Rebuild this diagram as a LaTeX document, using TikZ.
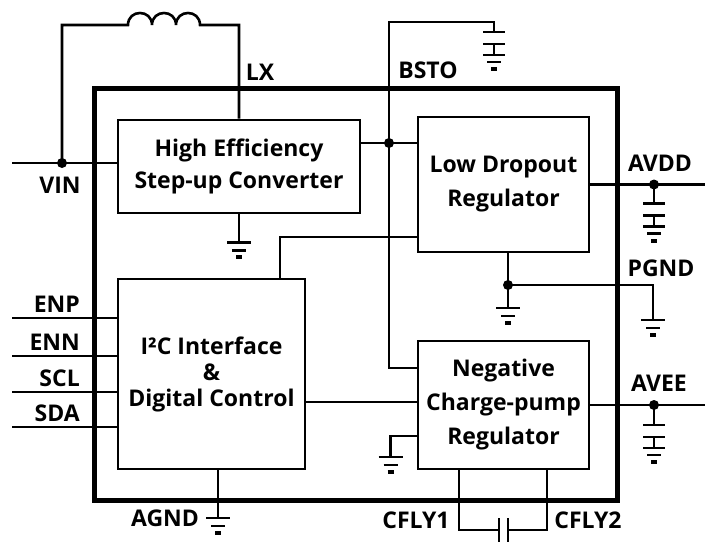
\documentclass[tikz,border=0pt]{standalone}
\usepackage{fontspec}
\setmainfont{Open Sans}
\tikzset{wire/.style={line width=2.6pt}}
\tikzset{blk/.style={draw, line width=2.8pt, align=center, font=\bfseries\fontsize{23}{34}\selectfont}}
\tikzset{lbl/.style={font=\bfseries\fontsize{23}{24}\selectfont, inner sep=0pt}}
\tikzset{dot/.style={circle, fill, inner sep=0pt, minimum size=10pt}}
\tikzset{gnd/.pic={
    \draw[line width=2.6pt] (-12,0) -- (12,0) (-7,8) -- (7,8);
    \draw[line width=4pt] (-3,15) -- (3,15);}}
\tikzset{capgnd/.pic={
    \draw[line width=2.6pt] (-11,0) -- (11,0) (-11,12) -- (11,12) (0,12) -- (0,23)
        (-11,23) -- (11,23) (-7,30) -- (7,30);
    \draw[line width=4pt] (-3,37) -- (3,37);}}

\begin{document}
\begin{tikzpicture}[x=1pt, y=-1pt]
    \useasboundingbox (0,0) rectangle (705,543);
    \node[draw, line width=5pt, minimum width=523pt, minimum height=411pt] (chip) at (355.5,294.5) {};

    \node[blk, minimum width=242pt, minimum height=93pt, font=\bfseries\fontsize{23}{32}\selectfont] (boost) at (239,166.5) {High Efficiency\\Step-up Converter};
    \node[blk, minimum width=171pt, minimum height=135pt] (ldo) at (503.5,184.5) {Low Dropout\\Regulator};
    \node[blk, minimum width=187pt, minimum height=190pt, font=\bfseries\fontsize{23}{26}\selectfont] (digctl) at (211.5,374) {I²C Interface\\\&\\Digital Control};
    \node[blk, minimum width=171pt, minimum height=128pt] (negcp) at (503.5,405) {Negative\\Charge-pump\\Regulator};

    \node[dot] (vinj) at (62,163) {};
    \node[dot] (bstoj) at (389,143) {};
    \node[dot] (avddj) at (654,184.5) {};
    \node[dot] (pgndj) at (508,285) {};
    \node[dot] (aveej) at (654,405) {};

    \coordinate (vin) at (12,163);
    \coordinate (indl) at (128,25);
    \coordinate (bstotop) at (389,22);
    \coordinate (bstocap) at (494,32);
    \coordinate (ldotap) at (418,237);
    \coordinate (dtop) at (280,279);
    \coordinate (cptap) at (418,368);
    \coordinate (dcout) at (305,402);
    \coordinate (avdd) at (705,184.5);
    \coordinate (avee) at (705,405);
    \coordinate (agtap) at (218,469);
    \coordinate (cf1) at (459,469);
    \coordinate (cf2) at (547,469);
    \coordinate (cpl) at (499,530);
    \coordinate (cpr) at (508,530);

    % boost input and inductor
    \draw[wire] (vin) -- (vin -| boost.west);
    \draw[wire] (vinj.center) |- (indl) .. controls (128,9) and (152,9) .. (152,25)
        .. controls (152,9) and (176,9) .. (176,25) .. controls (176,9) and (200,9) .. (200,25) -| (boost.north);
    \draw[wire] (boost.south) -- ++(0,28) pic{gnd};
    \draw[wire] (bstoj -| boost.east) -- (bstoj -| ldo.west);
    \draw[wire] (bstocap) |- (bstotop) |- (cptap);
    \path (bstocap) pic{capgnd};

    % ldo
    \draw[wire] (dtop) |- (ldotap);
    \draw[wire] (ldo.east) -- (avdd);
    \draw[wire] (avddj.center) -- ++(0,19) pic{capgnd};
    \draw[wire] (pgndj |- ldo.south) -- (pgndj.center) -- ++(0,23) pic{gnd};
    \draw[wire] (pgndj.center) -| ++(145,35) pic{gnd};

    % charge pump
    \draw[wire] (negcp.east) -- (avee);
    \draw[wire] (aveej.center) -- ++(0,20) pic{capgnd};
    \draw[wire] ([yshift=-31pt]negcp.west) -| ++(-26,21) pic{gnd};
    \draw[wire] (dcout) -- (dcout -| negcp.west);
    \draw[wire] (cf1) |- (cpl);
    \draw[wire] (cf2) |- (cpr);
    \draw[wire] ([yshift=12pt]cpl) -- ([yshift=-12pt]cpl);
    \draw[wire] ([yshift=12pt]cpr) -- ([yshift=-12pt]cpr);

    % digital control
    \draw[wire] (agtap) -- ++(0,49) pic{gnd};
    \foreach \y/\t in {318/ENP, 356/ENN, 392/SCL, 427/SDA} {
        \draw[wire] (12,\y) -- (118,\y);
        \node[lbl, anchor=south east] (pin\t) at (80,\y-5) {\t};
    }

    % pin labels
    \node[lbl] (lvin) at (60,185) {VIN};
    \node[lbl] (llx) at (260,72) {LX};
    \node[lbl] (lbsto) at (428,70) {BSTO};
    \node[lbl] (lavdd) at (660,163) {AVDD};
    \node[lbl] (lpgnd) at (661,268) {PGND};
    \node[lbl] (lavee) at (659,383) {AVEE};
    \node[lbl] (lcfly1) at (416,520) {CFLY1};
    \node[lbl] (lcfly2) at (588,520) {CFLY2};
    \node[lbl] (lagnd) at (165,518) {AGND};
\end{tikzpicture}
\end{document}
